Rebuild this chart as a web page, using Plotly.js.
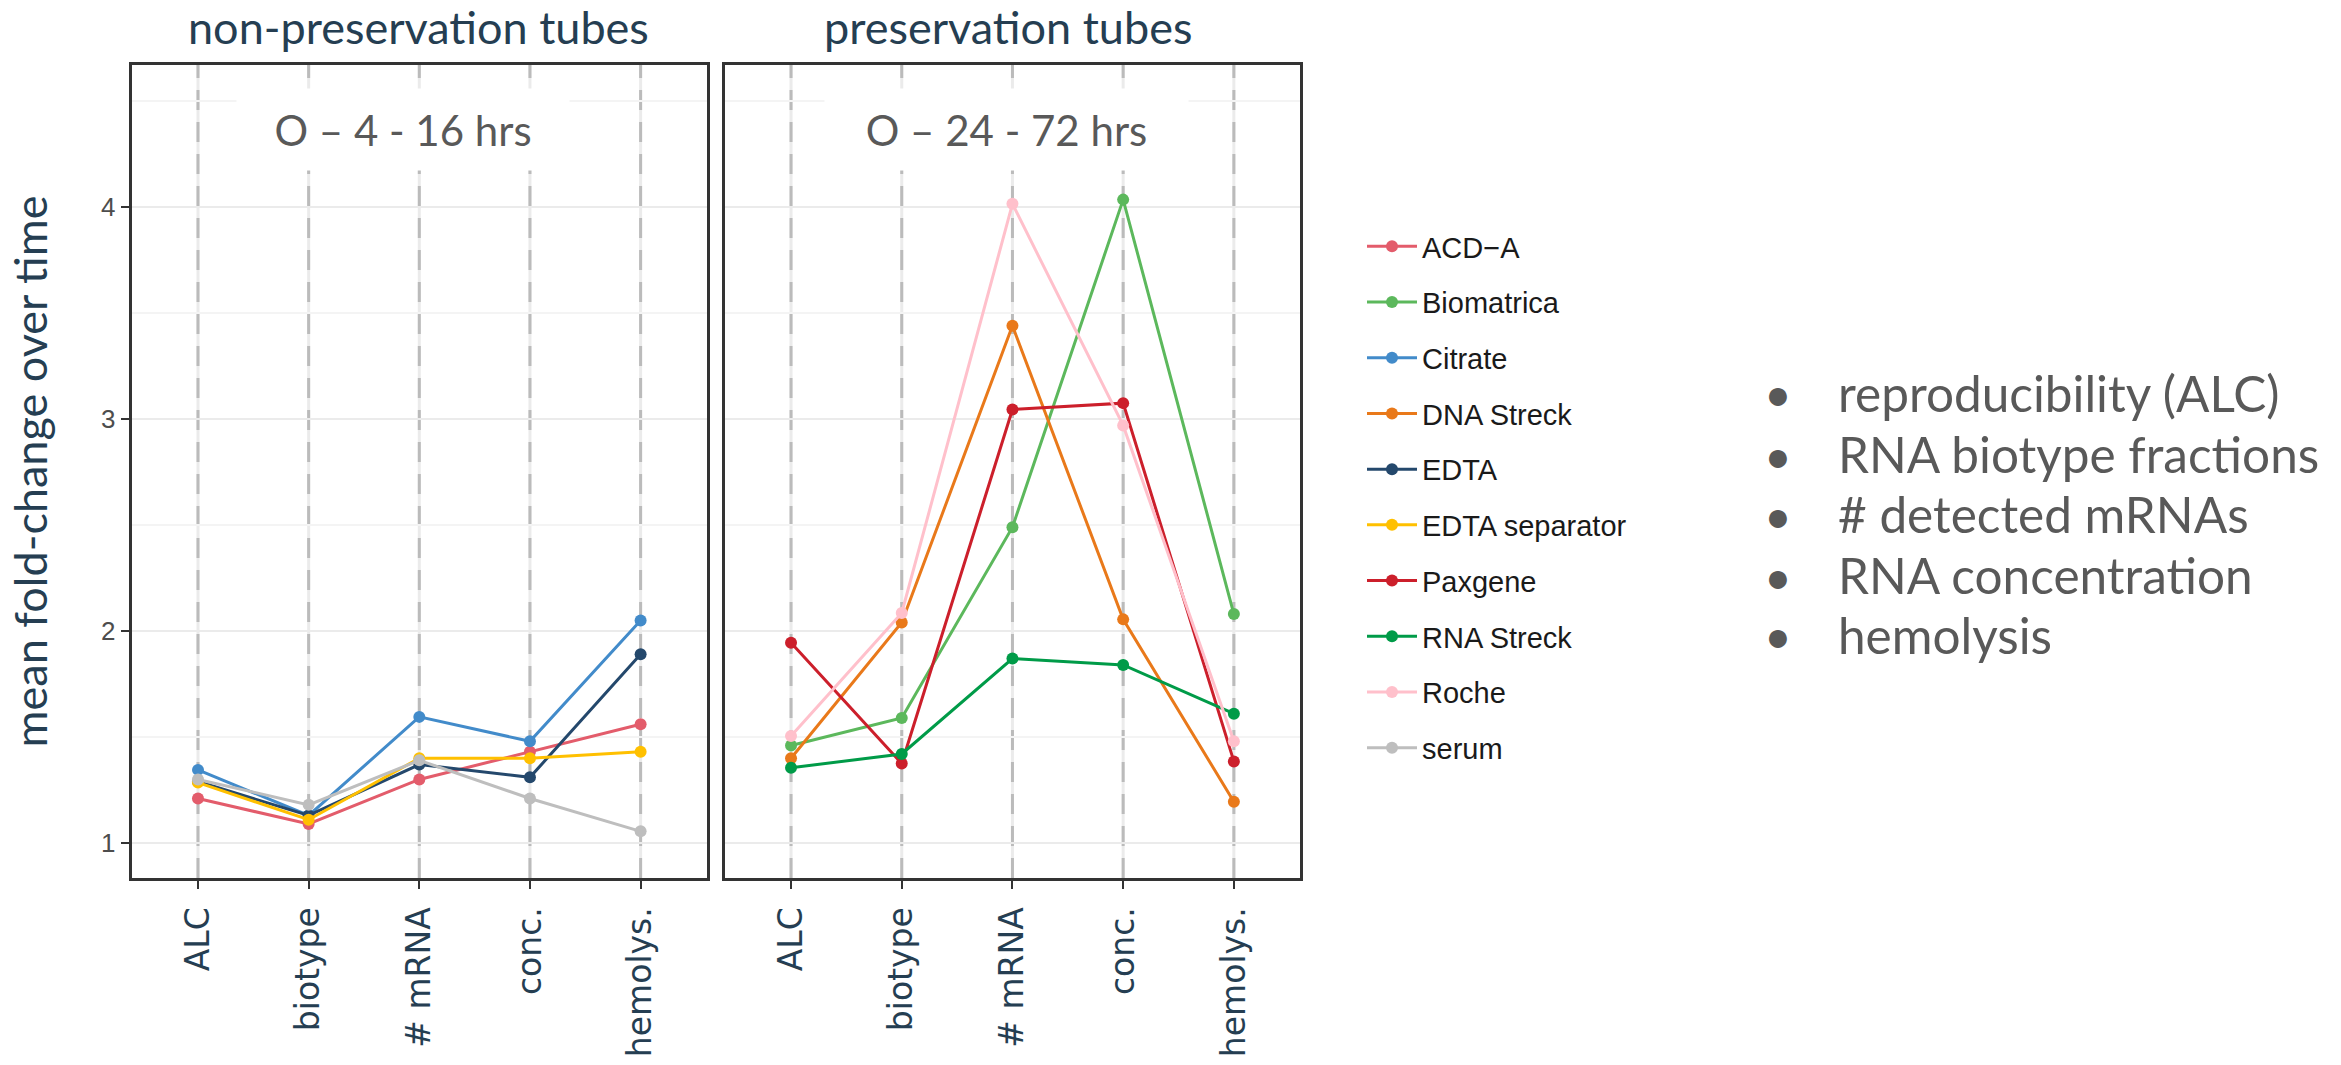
<!DOCTYPE html>
<html>
<head>
<meta charset="utf-8">
<script src="https://cdn.plot.ly/plotly-3.0.1.min.js"></script>
<style>html,body{margin:0;padding:0;background:#fff;}#chart{width:2341px;height:1065px;}</style>
</head>
<body>
<div id="chart"></div>
<script>
// ---- data ----
const categories = ['ALC', 'biotype', '# mRNA', 'conc.', 'hemolys.'];

// non-preservation tubes (O - 4 - 16 hrs)
const acdA          = [1.21, 1.09, 1.30, 1.43, 1.56];
const citrate       = [1.345, 1.13, 1.595, 1.48, 2.05];
const edta          = [1.29, 1.13, 1.37, 1.31, 1.89];
const edtaSeparator = [1.285, 1.11, 1.40, 1.40, 1.43];
const serum         = [1.30, 1.18, 1.39, 1.21, 1.055];

// preservation tubes (O - 24 - 72 hrs)
const biomatrica = [1.46, 1.59, 2.49, 4.035, 2.08];
const dnaStreck  = [1.40, 2.04, 3.44, 2.055, 1.195];
const paxgene    = [1.945, 1.375, 3.045, 3.075, 1.385];
const rnaStreck  = [1.355, 1.42, 1.87, 1.84, 1.61];
const roche      = [1.505, 2.085, 4.015, 2.97, 1.48];

const panelTitles = ['non-preservation tubes', 'preservation tubes'];
const panelLabels = ['O \u2013 4 - 16 hrs', 'O \u2013 24 - 72 hrs'];
const bulletItems = ['reproducibility (ALC)', 'RNA biotype fractions', '# detected mRNAs', 'RNA concentration', 'hemolysis'];
const yTitle = 'mean fold-change over time';

// ---- series (alphabetical, as in legend) ----
const series = [
  {name: 'ACD\u2212A',       y: acdA,          color: '#E35C6B', panel: 1},
  {name: 'Biomatrica',       y: biomatrica,    color: '#5CB85C', panel: 2},
  {name: 'Citrate',          y: citrate,       color: '#428BCA', panel: 1},
  {name: 'DNA Streck',       y: dnaStreck,     color: '#E9791A', panel: 2},
  {name: 'EDTA',             y: edta,          color: '#24486C', panel: 1},
  {name: 'EDTA separator',   y: edtaSeparator, color: '#FFC000', panel: 1},
  {name: 'Paxgene',          y: paxgene,       color: '#CC1F2B', panel: 2},
  {name: 'RNA Streck',       y: rnaStreck,     color: '#009B48', panel: 2},
  {name: 'Roche',            y: roche,         color: '#FFC0CB', panel: 2},
  {name: 'serum',            y: serum,         color: '#BEBEBE', panel: 1}
];

const traces = series.map(s => ({
  type: 'scatter',
  mode: 'lines+markers',
  name: s.name,
  legendgroup: s.name,
  x: categories,
  y: s.y,
  xaxis: s.panel === 1 ? 'x' : 'x2',
  yaxis: s.panel === 1 ? 'y' : 'y2',
  line: {color: s.color, width: 3},
  marker: {color: s.color, size: 12}
}));

const W = 2341, H = 1065;
const yDomain = [1 - 878 / H, 1 - 65 / H];
const titleFontColor = '#253E52';

function xAxis(domain, anchor) {
  return {
    domain: domain, anchor: anchor, type: 'category',
    categoryorder: 'array', categoryarray: categories,
    range: [-0.6, 4.6],
    showgrid: false,
    showline: true, mirror: true, linecolor: '#333333', linewidth: 3,
    ticks: 'outside', ticklen: 8, tickwidth: 2, tickcolor: '#333333',
    tickangle: -90, ticklabelstandoff: 5,
    tickfont: {family: 'DejaVu Sans', size: 33, color: titleFontColor},
    zeroline: false, fixedrange: true
  };
}
function yAxis(domain, anchor, labels) {
  return {
    domain: domain, anchor: anchor,
    range: [0.835, 4.67], tick0: 0, dtick: 1,
    showgrid: true, gridcolor: '#EBEBEB', gridwidth: 2,
    minor: {dtick: 0.5, showgrid: true, gridcolor: '#F4F4F4', gridwidth: 1.5},
    showline: true, mirror: true, linecolor: '#333333', linewidth: 3,
    ticks: labels ? 'outside' : '', ticklen: 8, tickwidth: 2, tickcolor: '#333333',
    showticklabels: labels,
    tickfont: {family: 'Liberation Sans', size: 26, color: '#4D4D4D'},
    zeroline: false, fixedrange: true
  };
}

const xa1 = xAxis([131.6 / W, 707 / W], 'y');
const xa2 = xAxis([724.6 / W, 1300.3 / W], 'y2');
const ya1 = yAxis(yDomain, 'x', true);
ya1.title = {text: yTitle, font: {family: 'Lato', size: 45, color: titleFontColor}, standoff: 40};
const ya2 = yAxis(yDomain, 'x2', false);
ya2.matches = 'y';

// light vertical grid + dashed reference lines at each category
const shapes = [];
['x', 'x2'].forEach((xr, k) => {
  const yr = (k === 0 ? 'y' : 'y2') + ' domain';
  categories.forEach(c => {
    shapes.push({
      type: 'line', layer: 'below', xref: xr, yref: yr,
      x0: c, x1: c, y0: 0, y1: 1,
      line: {color: '#EBEBEB', width: 3}
    });
    shapes.push({
      type: 'line', layer: 'below', xref: xr, yref: yr,
      x0: c, x1: c, y0: 0, y1: 1,
      line: {color: '#BBBBBB', width: 3, dash: '20px,12px'}
    });
  });
});

const annotations = [
  {text: panelTitles[0], xref: 'paper', yref: 'paper', x: 418 / W, y: 1 - 27 / H,
   xanchor: 'center', yanchor: 'middle', showarrow: false,
   font: {family: 'Lato', size: 45, color: titleFontColor}},
  {text: panelTitles[1], xref: 'paper', yref: 'paper', x: 1008 / W, y: 1 - 27 / H,
   xanchor: 'center', yanchor: 'middle', showarrow: false,
   font: {family: 'Lato', size: 45, color: titleFontColor}},
  {text: panelLabels[0], xref: 'x', yref: 'y', x: 1.853, y: 4.366,
   xanchor: 'center', yanchor: 'middle', showarrow: false,
   bgcolor: '#FFFFFF', borderpad: 0, width: 332, height: 81,
   font: {family: 'Lato', size: 42, color: '#595959'}},
  {text: panelLabels[1], xref: 'x2', yref: 'y2', x: 1.95, y: 4.366,
   xanchor: 'center', yanchor: 'middle', showarrow: false,
   bgcolor: '#FFFFFF', borderpad: 0, width: 363, height: 81,
   font: {family: 'Lato', size: 42, color: '#595959'}}
];

const bulletY = [393, 454, 514, 575, 635];
bulletItems.forEach((t, i) => {
  annotations.push({text: '\u2022', xref: 'paper', yref: 'paper',
    x: 1778 / W, y: 1 - bulletY[i] / H, xanchor: 'center', yanchor: 'middle', showarrow: false,
    font: {family: 'Lato', size: 48, color: '#595959'}});
  annotations.push({text: t, xref: 'paper', yref: 'paper',
    x: 1836 / W, y: 1 - bulletY[i] / H, xanchor: 'left', yanchor: 'middle', showarrow: false,
    font: {family: 'Lato', size: 49.5, color: '#595959'}});
});

const layout = {
  width: W, height: H,
  margin: {l: 0, r: 0, t: 0, b: 0},
  paper_bgcolor: '#FFFFFF', plot_bgcolor: '#FFFFFF',
  showlegend: true,
  legend: {
    x: 1362 / W, y: 1 - 221 / H, xanchor: 'left', yanchor: 'top',
    traceorder: 'grouped', tracegroupgap: 15, itemwidth: 50,
    font: {family: 'Liberation Sans', size: 29, color: '#1A1A1A'},
    bgcolor: 'rgba(0,0,0,0)', borderwidth: 0
  },
  xaxis: xa1, xaxis2: xa2, yaxis: ya1, yaxis2: ya2,
  shapes: shapes,
  annotations: annotations
};

Plotly.newPlot('chart', traces, layout, {staticPlot: true, displayModeBar: false});
</script>
</body>
</html>
